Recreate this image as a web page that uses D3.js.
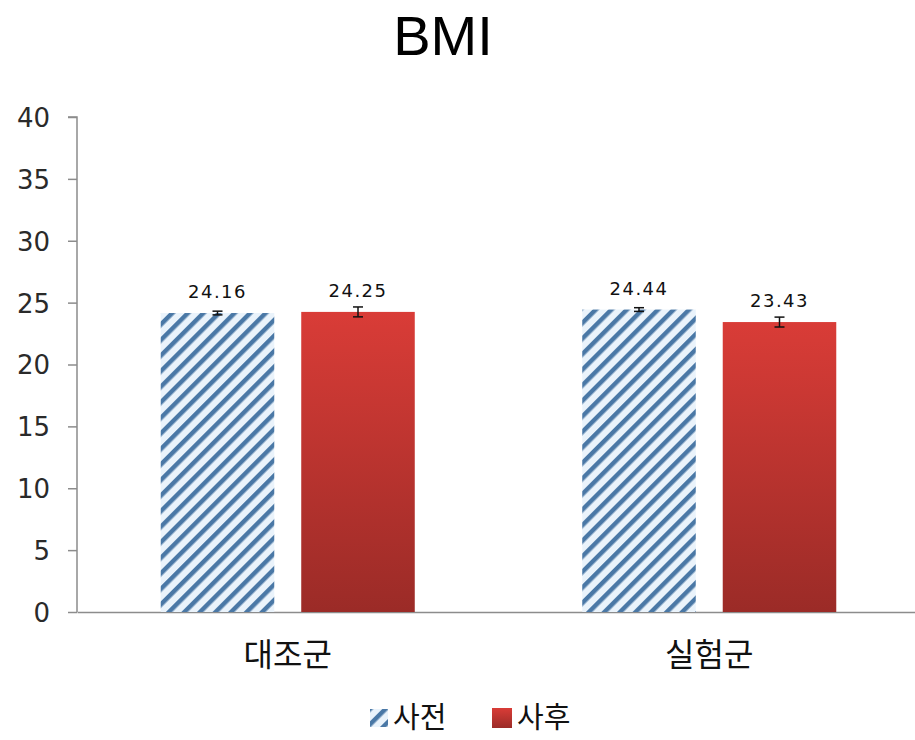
<!DOCTYPE html>
<html>
<head>
<meta charset="utf-8">
<script src="https://cdn.jsdelivr.net/npm/d3@7"></script>
<style>
  html, body { margin: 0; padding: 0; background: #fff; }
  svg { display: block; }
</style>
</head>
<body>
<svg id="chart" width="915" height="740"></svg>
<script>
// BMI before/after by group
const groups = ["대조군", "실험군"];
const seriesNames = ["사전", "사후"];
const preValues = [24.16, 24.44];
const postValues = [24.25, 23.43];
const preErrors = [0.15, 0.15];
const postErrors = [0.4, 0.4];
const yTicks = [0, 5, 10, 15, 20, 25, 30, 35, 40];

const svg = d3.select("#chart");
const W = 915, H = 740;
const margin = { left: 77, right: -5, top: 117, bottom: 128 };

const x0 = d3.scaleBand().domain(groups).range([margin.left, W - margin.right]).paddingInner(0).paddingOuter(0);
const x1 = d3.scaleBand().domain(seriesNames).range([0, x0.bandwidth()]).paddingInner(0.192).paddingOuter(0.596);
const y = d3.scaleLinear().domain([0, 40]).range([H - margin.bottom, margin.top]);

const defs = svg.append("defs");
// diagonal hatch for the "before" series
const pat = defs.append("pattern")
  .attr("id", "hatch").attr("patternUnits", "userSpaceOnUse")
  .attr("width", 11).attr("height", 11)
  .attr("patternTransform", "rotate(45)");
pat.append("rect").attr("width", 11).attr("height", 11).attr("fill", "#eaf3fb");
pat.append("rect").attr("x", 0).attr("width", 4.5).attr("height", 11).attr("fill", "#4a78a6");

const grad = defs.append("linearGradient").attr("id", "redGrad")
  .attr("x1", 0).attr("y1", 0).attr("x2", 0).attr("y2", 1);
grad.append("stop").attr("offset", "0%").attr("stop-color", "#d93c37");
grad.append("stop").attr("offset", "100%").attr("stop-color", "#9b2b27");

// title
svg.append("text").attr("x", 443).attr("y", 55).attr("text-anchor", "middle")
  .attr("font-family", "Liberation Sans, Arial, sans-serif").attr("font-size", 56)
  .attr("fill", "#000").text("BMI");

// y axis
const yAxis = d3.axisLeft(y).tickValues(yTicks).tickSize(9).tickPadding(18);
const gy = svg.append("g").attr("transform", `translate(${margin.left},0)`).call(yAxis);
gy.select(".domain").attr("stroke", "#8c8c8c").attr("stroke-width", 1.5).attr("d", `M-9,${y(40)}H0V${y(0)}`);
gy.selectAll(".tick line").attr("stroke", "#8c8c8c").attr("stroke-width", 1.5);
gy.selectAll(".tick text").attr("font-family", "DejaVu Sans, sans-serif").attr("font-size", 26)
  .attr("fill", "#2a2a2a").attr("dy", "0.36em");

// x axis
const xAxis = d3.axisBottom(x0).tickSize(0).tickPadding(38);
const gx = svg.append("g").attr("transform", `translate(0,${y(0)})`).call(xAxis);
gx.select(".domain").attr("stroke", "#8c8c8c").attr("stroke-width", 1.5);
gx.selectAll(".tick text").attr("font-family", "Noto Sans CJK KR, sans-serif").attr("font-size", 32)
  .attr("fill", "#111").attr("dy", "0.5em");

const rows = groups.map((g, i) => [
  { g, s: seriesNames[0], v: preValues[i], e: preErrors[i], fill: "url(#hatch)" },
  { g, s: seriesNames[1], v: postValues[i], e: postErrors[i], fill: "url(#redGrad)" }
]).flat();

const bars = svg.append("g");
bars.selectAll("rect").data(rows).enter().append("rect")
  .attr("x", d => x0(d.g) + x1(d.s))
  .attr("y", d => y(d.v))
  .attr("width", x1.bandwidth())
  .attr("height", d => y(0) - y(d.v))
  .attr("fill", d => d.fill);

// error bars
const eb = svg.append("g").attr("stroke", "#111").attr("stroke-width", 1.5);
rows.forEach(d => {
  const cx = x0(d.g) + x1(d.s) + x1.bandwidth() / 2;
  eb.append("line").attr("x1", cx).attr("x2", cx).attr("y1", y(d.v + d.e)).attr("y2", y(d.v - d.e));
  eb.append("line").attr("x1", cx - 5).attr("x2", cx + 5).attr("y1", y(d.v + d.e)).attr("y2", y(d.v + d.e));
  eb.append("line").attr("x1", cx - 5).attr("x2", cx + 5).attr("y1", y(d.v - d.e)).attr("y2", y(d.v - d.e));
});

// value labels
svg.append("g").selectAll("text").data(rows).enter().append("text")
  .attr("x", d => x0(d.g) + x1(d.s) + x1.bandwidth() / 2)
  .attr("y", d => y(d.v) - 15)
  .attr("text-anchor", "middle")
  .attr("font-family", "DejaVu Sans, sans-serif").attr("font-size", 18)
  .attr("letter-spacing", 1.5)
  .attr("fill", "#111")
  .text(d => d.v.toFixed(2));

// legend
const lg = svg.append("g").attr("transform", "translate(0,718)");
lg.append("rect").attr("x", 370).attr("y", -9).attr("width", 18).attr("height", 18).attr("fill", "url(#hatch)");
lg.append("text").attr("x", 393).attr("y", 0).attr("dy", "0.36em")
  .attr("font-family", "Noto Sans CJK KR, sans-serif").attr("font-size", 29).attr("fill", "#111").text(seriesNames[0]);
lg.append("rect").attr("x", 492).attr("y", -10).attr("width", 20).attr("height", 20).attr("fill", "url(#redGrad)");
lg.append("text").attr("x", 517).attr("y", 0).attr("dy", "0.36em")
  .attr("font-family", "Noto Sans CJK KR, sans-serif").attr("font-size", 29).attr("fill", "#111").text(seriesNames[1]);
</script>
</body>
</html>
